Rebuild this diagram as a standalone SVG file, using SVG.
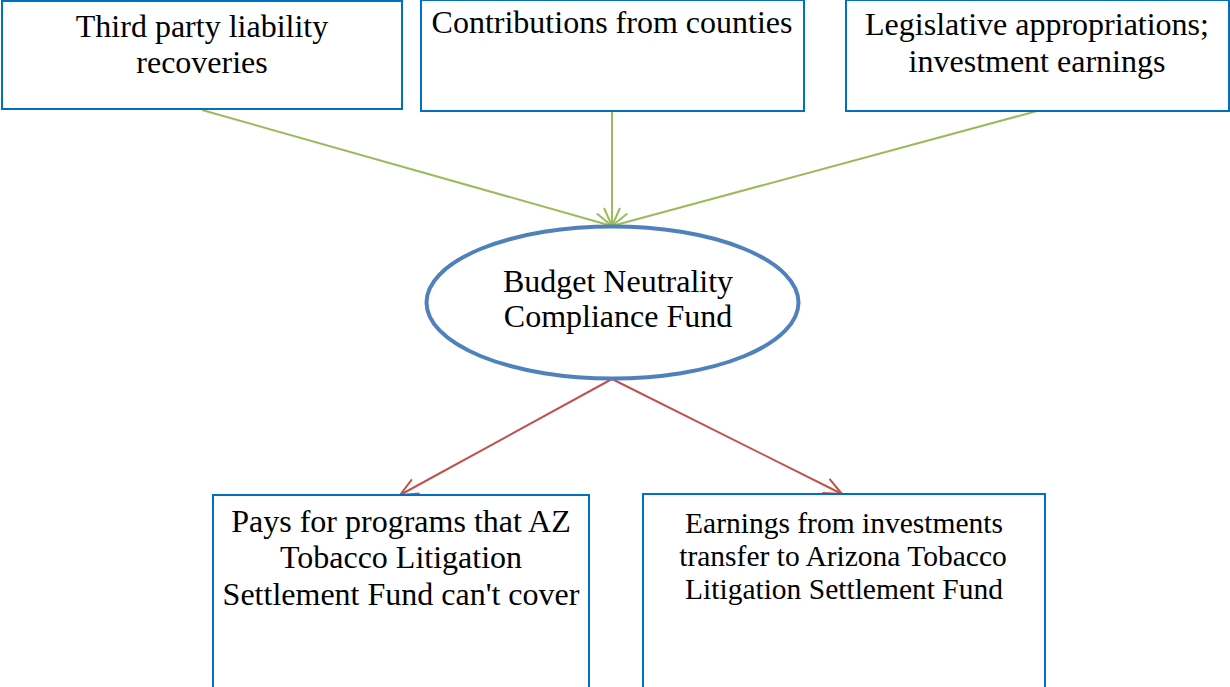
<svg xmlns="http://www.w3.org/2000/svg" width="1230" height="687" viewBox="0 0 1230 687">
<style>
.box{fill:#fff;stroke:#0070C0;stroke-width:2}
.t{font-family:"Liberation Serif","Times New Roman",serif;fill:#000;text-anchor:middle;font-size:32px}
.g{stroke:#9BBB59;stroke-width:2;fill:none}
.r{stroke:#C0504D;stroke-width:2;fill:none}
</style>
<defs>
<marker id="ag" viewBox="0 0 20 20" refX="19" refY="10" markerWidth="20" markerHeight="20" markerUnits="userSpaceOnUse" orient="auto">
<path d="M1 2 L19 10 L1 18" fill="none" stroke="#9BBB59" stroke-width="2"/>
</marker>
<marker id="ar" viewBox="0 0 20 20" refX="19" refY="10" markerWidth="20" markerHeight="20" markerUnits="userSpaceOnUse" orient="auto">
<path d="M1 2 L19 10 L1 18" fill="none" stroke="#C0504D" stroke-width="2"/>
</marker>
</defs>
<g id="connectors">
<line class="g" x1="202" y1="110" x2="612" y2="226" marker-end="url(#ag)"/>
<line class="g" x1="612" y1="111" x2="612" y2="226" marker-end="url(#ag)"/>
<line class="g" x1="1037" y1="111" x2="612" y2="226" marker-end="url(#ag)"/>
<line class="r" x1="612" y1="379" x2="400" y2="495" marker-end="url(#ar)"/>
<line class="r" x1="612" y1="379" x2="842" y2="494" marker-end="url(#ar)"/>
</g>
<g id="n1">
<rect class="box" x="2" y="1" width="400" height="108"/>
<text class="t" x="202" y="37">Third party liability</text>
<text class="t" x="202" y="73">recoveries</text>
</g>
<g id="n2">
<rect class="box" x="421" y="0" width="383" height="111"/>
<text class="t" x="612" y="33">Contributions from counties</text>
</g>
<g id="n3">
<rect class="box" x="846" y="0" width="383" height="111"/>
<text class="t" x="1037" y="35">Legislative appropriations;</text>
<text class="t" x="1037" y="72">investment earnings</text>
</g>
<g id="center">
<ellipse cx="612.5" cy="302.5" rx="186" ry="76" fill="#fff" stroke="#4F81BD" stroke-width="4"/>
<text class="t" x="618" y="292">Budget Neutrality</text>
<text class="t" x="618" y="327">Compliance Fund</text>
</g>
<g id="n4">
<rect class="box" x="213" y="495" width="376" height="194"/>
<text class="t" x="401" y="532">Pays for programs that AZ</text>
<text class="t" x="401" y="568">Tobacco Litigation</text>
<text class="t" x="401" y="605">Settlement Fund can't cover</text>
</g>
<g id="n5">
<rect class="box" x="643" y="494" width="402" height="195"/>
<text class="t" style="font-size:29.5px" x="844" y="533">Earnings from investments</text>
<text class="t" style="font-size:29.5px" x="843" y="566">transfer to Arizona Tobacco</text>
<text class="t" style="font-size:29.5px" x="844" y="599">Litigation Settlement Fund</text>
</g>
</svg>
